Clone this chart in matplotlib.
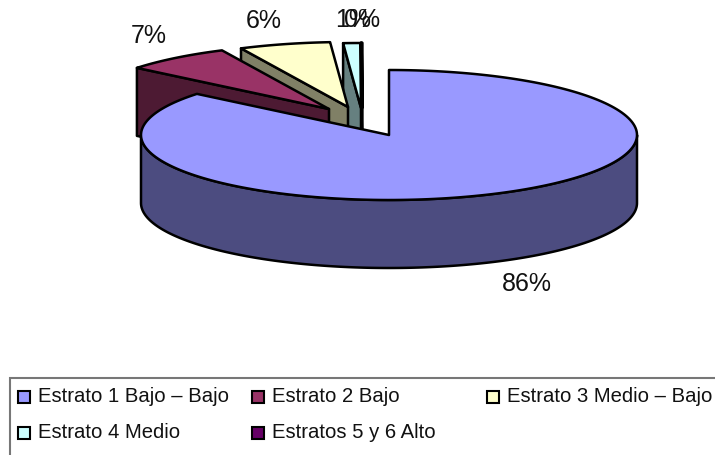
import numpy as np
import matplotlib
matplotlib.use("Agg")
import matplotlib.pyplot as plt
from matplotlib.patches import Polygon, Rectangle

categories = ["Estrato 1 Bajo – Bajo", "Estrato 2 Bajo", "Estrato 3 Medio – Bajo",
              "Estrato 4 Medio", "Estratos 5 y 6 Alto"]
shares = [85.9, 7.0, 5.95, 1.1, 0.05]

colors = ["#9999FF", "#993366", "#FFFFCC", "#CCFFFF", "#660066"]
wall_colors = ["#4C4C80", "#4D1A33", "#808066", "#668080", "#330033"]

# pie geometry in pixels
cx, cy = 389, 135
rx, ry = 248, 65
depth = 68
offsets = [(0, 0), (-60, -26), (-41, -28), (-28, -27), (-27, -27)]
line_widths = [1.8, 1.8, 1.8, 1.8, 2.4]
label_pos = [(527, 284), (149, 36), (264, 21), (353, 20), (362, 20)]
legend_cols = [18, 252, 487]
legend_rows = [397, 433]

plt.rcParams['font.family'] = ['Liberation Sans', 'DejaVu Sans']
fig = plt.figure(figsize=(7.15, 4.55), dpi=100)
ax = fig.add_axes([0, 0, 1, 1])
ax.set_xlim(0, 715)
ax.set_ylim(455, 0)
ax.axis('off')


def point(deg, dx=0, dy=0):
    a = np.radians(deg)
    return cx + dx + rx * np.sin(a), cy + dy - ry * np.cos(a)


def arc(a0, a1, dx=0, dy=0):
    t = np.linspace(a0, a1, 200)
    x, y = point(t, dx, dy)
    return np.column_stack([x, y])


edges = np.cumsum([0] + shares) / sum(shares) * 360

# back to front: the small slices first, the big one last
for i in [4, 3, 2, 1, 0]:
    a0, a1 = edges[i], edges[i + 1]
    dx, dy = offsets[i]
    lw = line_widths[i]
    tip = np.array([cx + dx, cy + dy])
    if i > 0:
        # flat wall on the slice's starting edge
        out = np.array(point(a0, dx, dy))
        wall = [tip, out, out + [0, depth], tip + [0, depth]]
    else:
        # round wall on the front half
        front = arc(90, 270)
        wall = np.vstack([front, (front + [0, depth])[::-1]])
    ax.add_patch(Polygon(wall, closed=True, fc=wall_colors[i], ec='black', lw=lw, joinstyle='round'))
    top = np.vstack([tip, arc(a0, a1, dx, dy)])
    ax.add_patch(Polygon(top, closed=True, fc=colors[i], ec='black', lw=lw, joinstyle='round'))

# percentage labels
total = sum(shares)
for s, (lx, ly) in zip(shares, label_pos):
    ax.text(lx, ly, "%.0f%%" % (s / total * 100), fontsize=18, ha='center', va='center', color='#111111')

# legend box
ax.add_patch(Rectangle((10, 378), 720, 100, fc='white', ec='#777777', lw=1.5, clip_on=True))
for i, name in enumerate(categories):
    col = legend_cols[i % 3]
    row = legend_rows[i // 3]
    ax.add_patch(Rectangle((col, row - 6), 12, 12, fc=colors[i], ec='black', lw=1.5))
    ax.text(col + 20, row, name, fontsize=14.6, ha='left', va='center', color='#111111')

fig.savefig("out.png", dpi=100)
